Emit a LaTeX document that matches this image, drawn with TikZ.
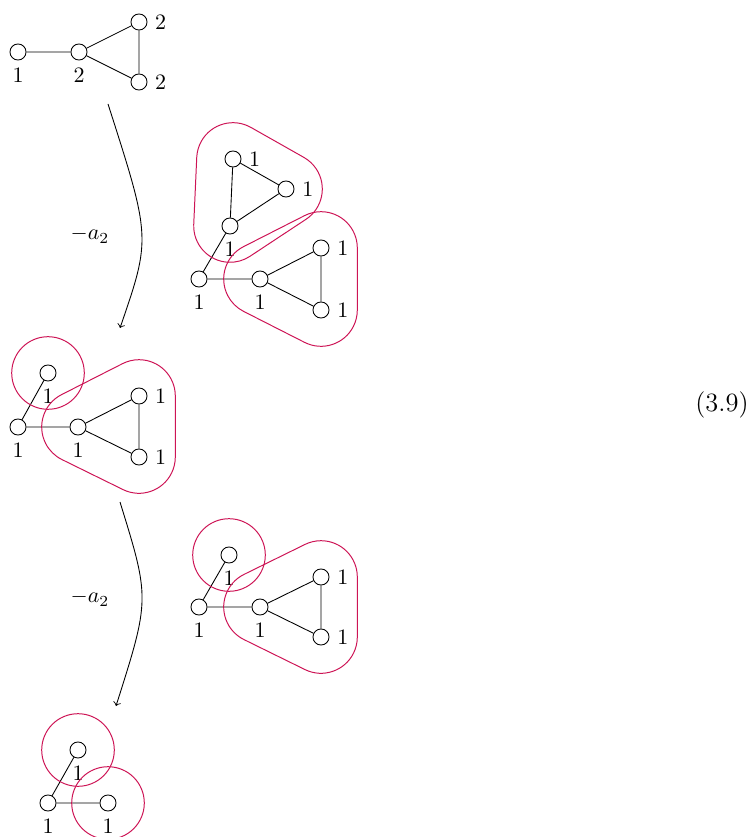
\documentclass[tikz,border=0pt]{standalone}
\usetikzlibrary{calc}
\definecolor{hullred}{RGB}{205,20,85}
\newcommand\hr{16.5pt}
\newcommand\trihull[3]{%
  \draw[hull] let \p1=(#1.center),\p2=(#2.center),\p3=(#3.center),
    \n1={atan2(\y2-\y1,\x2-\x1)-90},
    \n2={atan2(\y3-\y2,\x3-\x2)-90},
    \n3={atan2(\y1-\y3,\x1-\x3)-90},
    \n4={mod(\n2-\n1+720,360)},
    \n5={mod(\n3-\n2+720,360)},
    \n6={mod(\n1-\n3+720,360)}
  in ($(\p1)+(\n1:\hr)$) -- ($(\p2)+(\n1:\hr)$)
     arc[start angle=\n1,delta angle=\n4,radius=\hr]
     -- ($(\p3)+(\n2:\hr)$)
     arc[start angle=\n2,delta angle=\n5,radius=\hr]
     -- ($(\p1)+(\n3:\hr)$)
     arc[start angle=\n3,delta angle=\n6,radius=\hr] -- cycle;}
\newcommand\cirhull[1]{\draw[hull] (#1.center) circle[radius=\hr];}
\begin{document}
\begin{tikzpicture}[x=0.4545pt,y=-0.4545pt,
  vtx/.style={circle,draw,fill=white,minimum size=7.3pt,inner sep=0pt},
  hull/.style={draw=hullred,line width=0.45pt},
  lab/.style={inner sep=0pt},
  arr/.style={->}]
\useasboundingbox (0,0) rectangle (753,837);

% top graph
\node[vtx,label=below:1] (t1) at (18,52) {};
\node[vtx,label=below:2] (t2) at (79,52) {};
\node[vtx,label=right:2] (t3) at (139,22) {};
\node[vtx,label=right:2] (t4) at (139,82) {};
\draw (t1) -- (t2) (t2) -- (t3) (t2) -- (t4) (t3) -- (t4);

% first arrow
\coordinate (ar1s) at (108,104);
\coordinate (ar1c) at (151,238);
\coordinate (ar1e) at (120,328);
\draw[arr] (ar1s) .. controls (ar1c) .. (ar1e);
\node (la1) at (90,235) {$-a_2$};

% upper right graph
\node[vtx,label=right:1] (a1) at (233,159) {};
\node[vtx,label=right:1] (b1) at (286,189) {};
\node[vtx,label=below:1] (c1) at (230,226) {};
\node[vtx,label=below:1] (d1) at (199,279) {};
\node[vtx,label=below:1] (e1) at (260,279) {};
\node[vtx,label=right:1] (f1) at (321,248) {};
\node[vtx,label=right:1] (g1) at (321,310) {};
\draw (a1) -- (b1) (a1) -- (c1) (b1) -- (c1) (c1) -- (d1) (d1) -- (e1)
      (e1) -- (f1) (e1) -- (g1) (f1) -- (g1);
\trihull{a1}{c1}{b1}
\trihull{e1}{g1}{f1}

% middle left graph
\node[vtx,label=below:1] (mt) at (48,373) {};
\node[vtx,label=below:1] (md) at (18,427) {};
\node[vtx,label=below:1] (me) at (78,427) {};
\node[vtx,label=right:1] (mf) at (139,396) {};
\node[vtx,label=right:1] (mg) at (139,457) {};
\draw (mt) -- (md) (md) -- (me) (me) -- (mf) (me) -- (mg) (mf) -- (mg);
\cirhull{mt}
\trihull{me}{mg}{mf}

% equation number
\node (eqn) at (722,405) {\large(3.9)};

% second arrow
\coordinate (ar2s) at (120,502);
\coordinate (ar2c) at (150,599);
\coordinate (ar2e) at (116,706);
\draw[arr] (ar2s) .. controls (ar2c) .. (ar2e);
\node (la2) at (90,598) {$-a_2$};

% lower right graph
\node[vtx,label=below:1] (rt) at (229,555) {};
\node[vtx,label=below:1] (rd) at (199,607) {};
\node[vtx,label=below:1] (re) at (260,607) {};
\node[vtx,label=right:1] (rf) at (321,577) {};
\node[vtx,label=right:1] (rg) at (321,637) {};
\draw (rt) -- (rd) (rd) -- (re) (re) -- (rf) (re) -- (rg) (rf) -- (rg);
\cirhull{rt}
\trihull{re}{rg}{rf}

% bottom graph
\node[vtx,label=below:1] (bt) at (78,750) {};
\node[vtx,label=below:1] (bd) at (48,803) {};
\node[vtx,label=below:1] (be) at (108,803) {};
\draw (bt) -- (bd) (bd) -- (be);
\cirhull{bt}
\cirhull{be}
\end{tikzpicture}
\end{document}
